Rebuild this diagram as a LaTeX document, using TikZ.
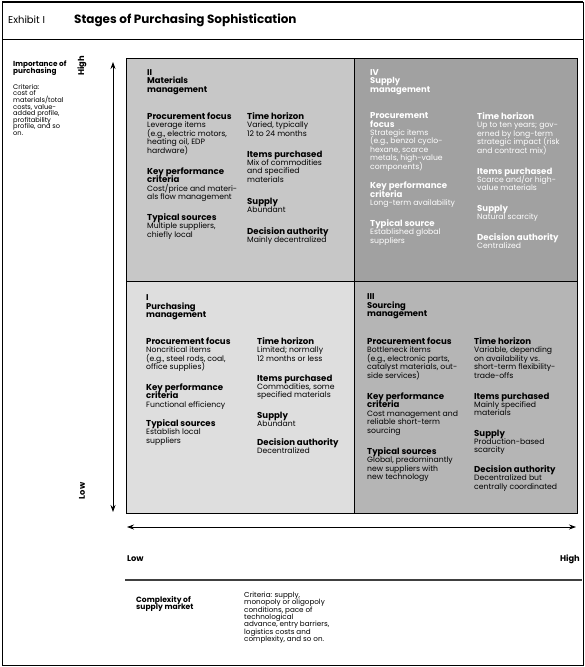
\documentclass[tikz,border=0pt]{standalone}
\usepackage{fontspec}
\setmainfont{Poppins}
\usetikzlibrary{positioning,arrows.meta}

\definecolor{qtwo}{gray}{0.78}
\definecolor{qfour}{gray}{0.63}
\definecolor{qone}{gray}{0.87}
\definecolor{qthree}{gray}{0.71}

\lineskiplimit=-20pt
\newcommand{\hd}[1]{{\fontsize{8.6}{8.4}\selectfont\bfseries #1}}

\tikzset{
  quad/.style={draw=black, line width=0.9pt, anchor=north west, inner sep=0pt, minimum width=#1},
  sec/.style={anchor=north west, inner sep=0pt, align=left, font=\fontsize{7.7}{8.4}\selectfont},
  qhead/.style={anchor=north west, inner sep=0pt, align=left, font=\fontsize{8.4}{8.4}\selectfont\bfseries},
  axlab/.style={inner sep=0pt, font=\fontsize{8.3}{8}\selectfont\bfseries},
  sidetext/.style={anchor=north west, inner sep=0pt, align=left, font=\fontsize{6.7}{6.6}\selectfont},
  sidehead/.style={anchor=north west, inner sep=0pt, align=left, font=\fontsize{7.3}{6.8}\selectfont\bfseries},
  twoway/.style={{Stealth[length=7pt,width=5pt]}-{Stealth[length=7pt,width=5pt]}, line width=0.8pt}
}

\begin{document}
\begin{tikzpicture}[x=1pt,y=-1pt]
\useasboundingbox (0,0) rectangle (585,667);
% frame and title
\draw[line width=1pt] (2,2) rectangle (583,665);
\draw[line width=2pt] (2,2) -- (583,2);
\draw[line width=0.8pt] (2,39) -- (583,39);
\node[anchor=west, inner sep=0pt, font=\fontsize{10}{10}\selectfont] (exh) at (8,20) {Exhibit I};
\node[anchor=west, inner sep=0pt, font=\fontsize{12}{12}\selectfont\bfseries] (ttl) at (74,20) {Stages of Purchasing Sophistication};

% quadrants
\node[quad=228pt, minimum height=223pt, fill=qtwo] (q2) at (126,58) {};
\node[quad=223pt, minimum height=223pt, fill=qfour] (q4) at (354,58) {};
\node[quad=228pt, minimum height=232pt, fill=qone] (q1) at (126,281) {};
\node[quad=223pt, minimum height=232pt, fill=qthree] (q3) at (354,281) {};

% II Materials management
\node[qhead] (q2t) at (147,69.5) {II\\Materials\\management};
\node[sec] (q2pf) at (147,112.5) {\hd{Procurement focus}\\Leverage items\\(e.g., electric motors,\\heating oil, EDP\\hardware)};
\node[sec] (q2kp) at (147,167.5) {\hd{Key performance}\\\hd{criteria}\\Cost/price and materi-\\als flow management};
\node[sec] (q2ts) at (147,213.5) {\hd{Typical sources}\\Multiple suppliers,\\chiefly local};
\node[sec] (q2th) at (247,112.5) {\hd{Time horizon}\\Varied, typically\\12 to 24 months};
\node[sec] (q2ip) at (247,150.5) {\hd{Items purchased}\\Mix of commodities\\and specified\\materials};
\node[sec] (q2su) at (247,197.5) {\hd{Supply}\\Abundant};
\node[sec] (q2da) at (247,227.5) {\hd{Decision authority}\\Mainly decentralized};

% IV Supply management
\begin{scope}[text=white]
\node[qhead] (q4t) at (370,69.5) {IV\\Supply\\management};
\node[sec] (q4pf) at (370,112.5) {\hd{Procurement}\\\hd{focus}\\Strategic items\\(e.g., benzol cyclo-\\hexane, scarce\\metals, high-value\\components)};
\node[sec] (q4kp) at (370,182) {\hd{Key performance}\\\hd{criteria}\\Long-term availability};
\node[sec] (q4ts) at (370,219.5) {\hd{Typical source}\\Established global\\suppliers};
\node[sec] (q4th) at (477,112.5) {\hd{Time horizon}\\Up to ten years; gov-\\erned by long-term\\strategic impact (risk\\and contract mix)};
\node[sec] (q4ip) at (477,167.5) {\hd{Items purchased}\\Scarce and/or high-\\value materials};
\node[sec] (q4su) at (477,205) {\hd{Supply}\\Natural scarcity};
\node[sec] (q4da) at (477,233.5) {\hd{Decision authority}\\Centralized};
\end{scope}

% I Purchasing management
\node[qhead] (q1t) at (146,294.5) {I\\Purchasing\\management};
\node[sec] (q1pf) at (146,337.5) {\hd{Procurement focus}\\Noncritical items\\(e.g., steel rods, coal,\\office supplies)};
\node[sec] (q1kp) at (146,383.5) {\hd{Key performance}\\\hd{criteria}\\Functional efficiency};
\node[sec] (q1ts) at (146,419.5) {\hd{Typical sources}\\Establish local\\suppliers};
\node[sec] (q1th) at (257,337.5) {\hd{Time horizon}\\Limited; normally\\12 months or less};
\node[sec] (q1ip) at (257,374.5) {\hd{Items purchased}\\Commodities, some\\specified materials};
\node[sec] (q1su) at (257,411.5) {\hd{Supply}\\Abundant};
\node[sec] (q1da) at (257,438.5) {\hd{Decision authority}\\Decentralized};

% III Sourcing management
\node[qhead] (q3t) at (367,293.5) {III\\Sourcing\\management};
\node[sec] (q3pf) at (367,337.5) {\hd{Procurement focus}\\Bottleneck items\\(e.g., electronic parts,\\catalyst materials, out-\\side services)};
\node[sec] (q3kp) at (367,392.5) {\hd{Key performance}\\\hd{criteria}\\Cost management and\\reliable short-term\\sourcing};
\node[sec] (q3ts) at (367,447.5) {\hd{Typical sources}\\Global, predominantly\\new suppliers with\\new technology};
\node[sec] (q3th) at (474,337.5) {\hd{Time horizon}\\Variable, depending\\on availability vs.\\short-term flexibility-\\trade-offs};
\node[sec] (q3ip) at (474,392.5) {\hd{Items purchased}\\Mainly specified\\materials};
\node[sec] (q3su) at (474,429.5) {\hd{Supply}\\Production-based\\scarcity};
\node[sec] (q3da) at (474,465.5) {\hd{Decision authority}\\Decentralized but\\centrally coordinated};

% axes
\coordinate (vtop) at (113,62);
\coordinate (vbot) at (113,512);
\coordinate (hleft) at (127,527);
\coordinate (hright) at (576,527);
\draw[twoway] (vtop) -- (vbot);
\draw[twoway] (hleft) -- (hright);
\node[axlab, rotate=90] (vhigh) at (82,66) {High};
\node[axlab, rotate=90] (vlow) at (82,491) {Low};
\node[axlab, anchor=west] (hlow) at (127,559) {Low};
\node[axlab, anchor=east] (hhigh) at (580,559) {High};

% side and bottom captions
\node[sidehead] (imp) at (13,61) {Importance of\\purchasing};
\node[sidetext] (impcrit) at (13,84) {Criteria:\\cost of\\materials/total\\costs, value-\\added profile,\\profitability\\profile, and so\\on.};
\coordinate (rulel) at (125,580);
\coordinate (ruler) at (582,580);
\draw[line width=1.5pt, black!75] (rulel) -- (ruler);
\node[sidehead, font=\fontsize{7.6}{7.4}\selectfont\bfseries] (cpx) at (136,596) {Complexity of\\supply market};
\node[sidetext, font=\fontsize{7.2}{7.3}\selectfont] (cpxcrit) at (244,592) {Criteria: supply,\\monopoly or oligopoly\\conditions, pace of\\technological\\advance, entry barriers,\\logistics costs and\\complexity, and so on.};
\end{tikzpicture}
\end{document}
